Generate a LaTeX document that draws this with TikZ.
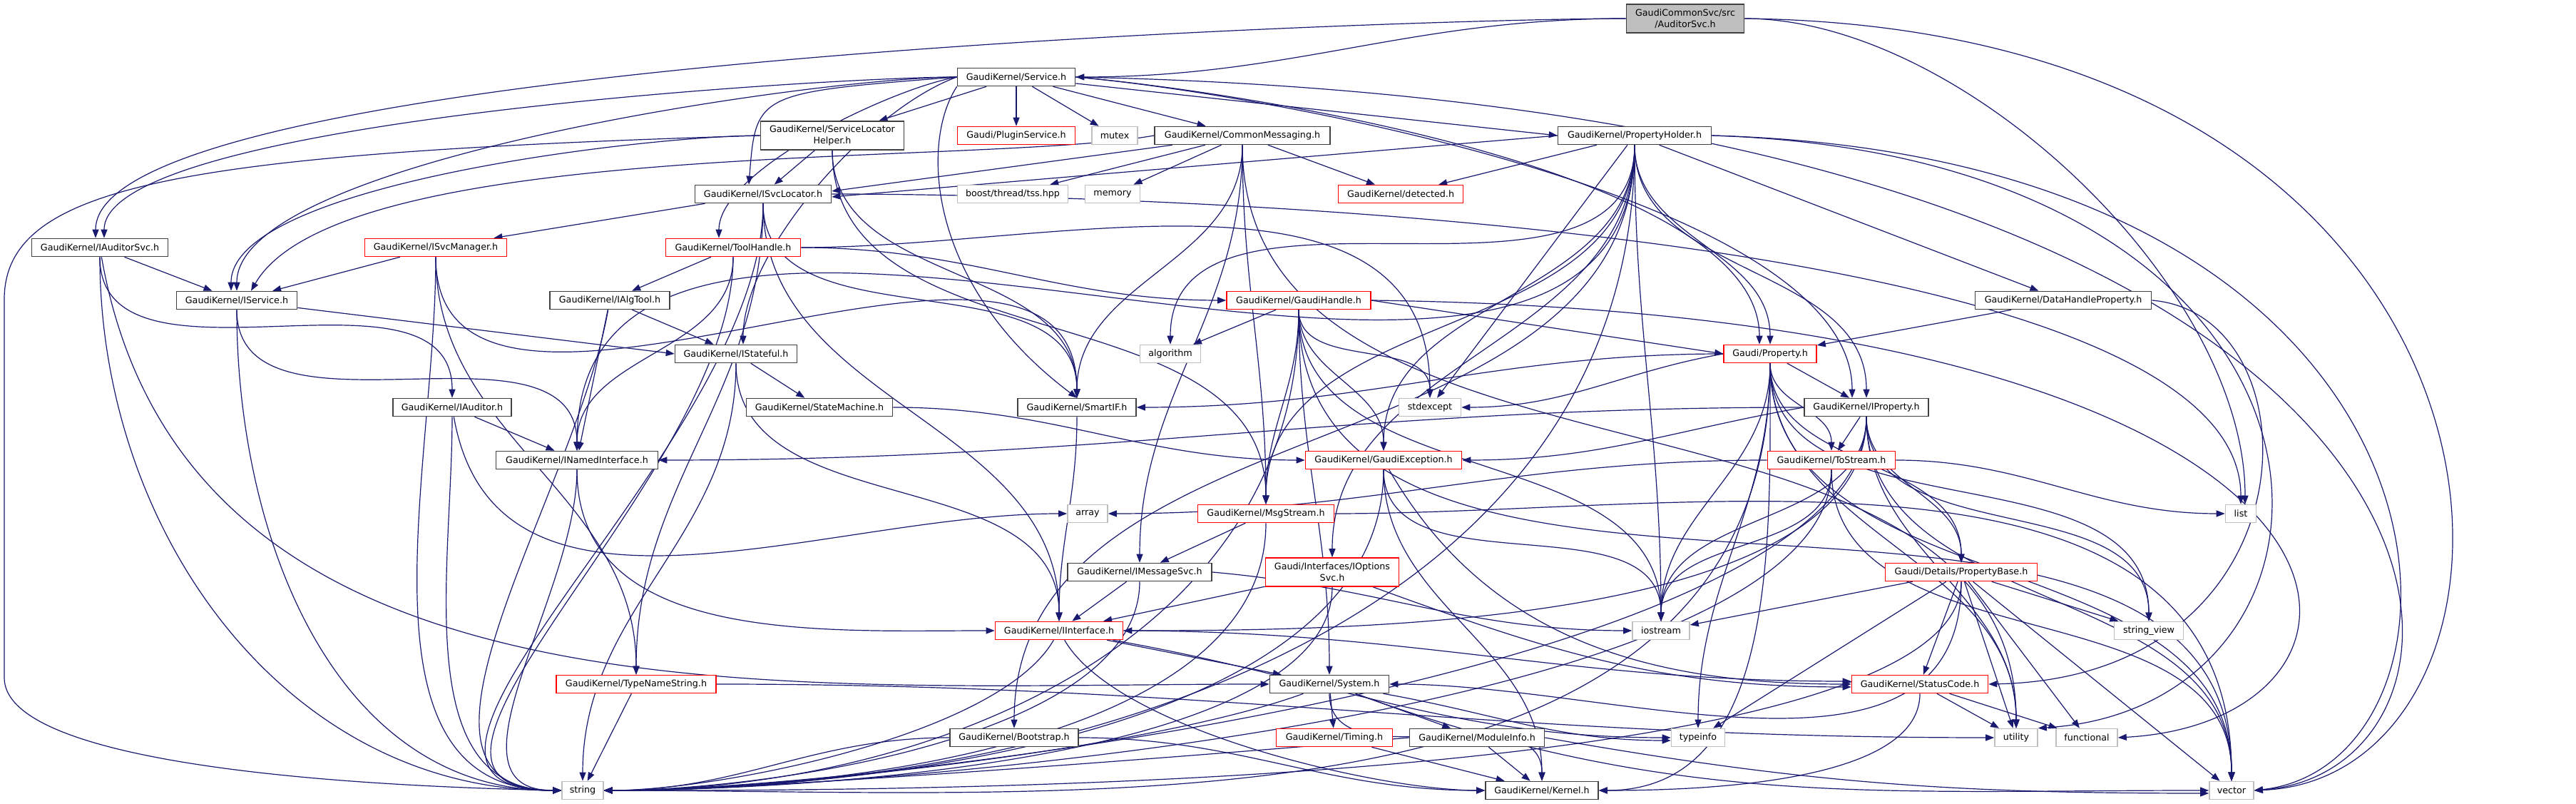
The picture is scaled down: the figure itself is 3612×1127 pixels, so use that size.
\documentclass[tikz,border=0pt]{standalone}
\usepackage{fontspec}
\setmainfont{DejaVu Sans}
\usepackage{tikz}
\usetikzlibrary{arrows.meta}
\definecolor{edgeblue}{HTML}{191970}
\definecolor{boxgray}{HTML}{404040}
\definecolor{sysgray}{HTML}{BFBFBF}
\definecolor{rootgray}{HTML}{BFBFBF}
\pgfdeclarelayer{back}
\pgfdeclarelayer{wires}
\pgfsetlayers{back,wires,main}
\tikzset{
  hdr/.style={draw=boxgray, line width=0.32pt, fill=white, minimum height=5pt, inner sep=0pt, align=center, font=\fontsize{2.54}{3.2}\selectfont},
  hdrtrunc/.style={hdr, draw=red},
  hdrsys/.style={hdr, draw=sysgray},
  hdrroot/.style={hdr, fill=rootgray},
  wd/.style={minimum width=#1*0.2pt},
  twoline/.style={minimum height=8pt},
  dep/.style={draw=edgeblue, line width=0.24pt, -{Triangle[length=2.4pt,width=1.8pt]}, out=-90, in=90},
}

\begin{document}
\begin{tikzpicture}[x=0.2pt,y=0.2pt]
	\useasboundingbox (0,0) rectangle (3612,-1127);
	\begin{pgfonlayer}{back}
	\fill[white] (0,0) rectangle (3612,-1127);
	\end{pgfonlayer}
	\node[hdrroot, wd=165, twoline] (root) at (2363,-26) {GaudiCommonSvc/src\\/AuditorSvc.h};
	\node[hdr, wd=165] (service) at (1425,-108) {GaudiKernel/Service.h};
	\node[hdr, wd=201, twoline] (slh) at (1167,-190) {GaudiKernel/ServiceLocator\\Helper.h};
	\node[hdrtrunc, wd=165] (plugin) at (1425,-190) {Gaudi/PluginService.h};
	\node[hdrsys, wd=64] (mutex) at (1563,-190) {mutex};
	\node[hdr, wd=246] (commsg) at (1742,-190) {GaudiKernel/CommonMessaging.h};
	\node[hdr, wd=215] (propholder) at (2292,-190) {GaudiKernel/PropertyHolder.h};
	\node[hdr, wd=191] (isvcloc) at (1070,-272) {GaudiKernel/ISvcLocator.h};
	\node[hdrsys, wd=155] (boost) at (1420,-272) {boost/thread/tss.hpp};
	\node[hdrsys, wd=77] (memory) at (1560,-272) {memory};
	\node[hdrtrunc, wd=175] (detected) at (1964,-272) {GaudiKernel/detected.h};
	\node[hdr, wd=191] (iauditorsvc) at (140,-347) {GaudiKernel/IAuditorSvc.h};
	\node[hdrtrunc, wd=199] (isvcmgr) at (611,-347) {GaudiKernel/ISvcManager.h};
	\node[hdrtrunc, wd=189] (toolhandle) at (1028,-347) {GaudiKernel/ToolHandle.h};
	\node[hdrtrunc, wd=202] (gaudihandle) at (1821,-421) {GaudiKernel/GaudiHandle.h};
	\node[hdr, wd=247] (datahandle) at (2893,-421) {GaudiKernel/DataHandleProperty.h};
	\node[hdr, wd=169] (iservice) at (332,-421) {GaudiKernel/IService.h};
	\node[hdr, wd=168] (ialgtool) at (855,-421) {GaudiKernel/IAlgTool.h};
	\node[hdr, wd=171] (istateful) at (1032,-496) {GaudiKernel/IStateful.h};
	\node[hdrsys, wd=85] (algorithm) at (1641,-496) {algorithm};
	\node[hdrtrunc, wd=130] (property) at (2482,-496) {Gaudi/Property.h};
	\node[hdr, wd=166] (iauditor) at (634,-571) {GaudiKernel/IAuditor.h};
	\node[hdr, wd=205] (statemachine) at (1149,-571) {GaudiKernel/StateMachine.h};
	\node[hdr, wd=166] (smartif) at (1510,-571) {GaudiKernel/SmartIF.h};
	\node[hdrsys, wd=87] (stdexcept) at (2005,-571) {stdexcept};
	\node[hdr, wd=174] (iproperty) at (2617,-571) {GaudiKernel/IProperty.h};
	\node[hdr, wd=227] (inamed) at (809,-645) {GaudiKernel/INamedInterface.h};
	\node[hdrtrunc, wd=219] (gexception) at (1940,-645) {GaudiKernel/GaudiException.h};
	\node[hdrtrunc, wd=179] (tostream) at (2568,-645) {GaudiKernel/ToStream.h};
	\node[hdrsys, wd=56] (array) at (1525,-720) {array};
	\node[hdrtrunc, wd=191] (msgstream) at (1775,-720) {GaudiKernel/MsgStream.h};
	\node[hdrsys, wd=43] (list) at (3142,-720) {list};
	\node[hdr, wd=202] (imsgsvc) at (1598,-802) {GaudiKernel/IMessageSvc.h};
	\node[hdrtrunc, wd=187, twoline] (ioptions) at (1868,-802) {Gaudi/Interfaces/IOptions\\Svc.h};
	\node[hdrtrunc, wd=213] (propbase) at (2750,-802) {Gaudi/Details/PropertyBase.h};
	\node[hdrtrunc, wd=179] (iinterface) at (1485,-884) {GaudiKernel/IInterface.h};
	\node[hdrsys, wd=80] (iostream) at (2329,-884) {iostream};
	\node[hdrsys, wd=97] (stringview) at (3013,-884) {string\_view};
	\node[hdr, wd=167] (system) at (1864,-959) {GaudiKernel/System.h};
	\node[hdrtrunc, wd=224] (typename) at (892,-959) {GaudiKernel/TypeNameString.h};
	\node[hdrtrunc, wd=191] (statuscode) at (2692,-959) {GaudiKernel/StatusCode.h};
	\node[hdr, wd=180] (bootstrap) at (1422,-1034) {GaudiKernel/Bootstrap.h};
	\node[hdrtrunc, wd=163] (timing) at (1871,-1034) {GaudiKernel/Timing.h};
	\node[hdr, wd=189] (moduleinfo) at (2071,-1034) {GaudiKernel/ModuleInfo.h};
	\node[hdrsys, wd=75] (typeinfo) at (2381,-1034) {typeinfo};
	\node[hdrsys, wd=60] (utility) at (2827,-1034) {utility};
	\node[hdrsys, wd=86] (functional) at (2926,-1034) {functional};
	\node[hdrsys, wd=58] (string) at (817,-1108) {string};
	\node[hdr, wd=158] (kernel) at (2162,-1108) {GaudiKernel/Kernel.h};
	\node[hdrsys, wd=62] (vector) at (3129,-1108) {vector};
	\begin{pgfonlayer}{wires}
	\draw[dep] (root.west) to[out=180,in=0] (service.east);
	\draw[dep] (root.west) to[out=180,in=90,looseness=0.3] ([xshift=-1.2pt]iauditorsvc.north);
	\draw[dep] (root.east) to[out=0,in=90,looseness=0.8] ([xshift=1.2pt]list.north);
	\draw[dep] (root.east) .. controls (3606,-40) and (3606,-1090) .. (vector.east);
	\draw[dep] (service.west) to[out=180,in=90,looseness=0.35] ([xshift=1.2pt]iauditorsvc.north);
	\draw[dep] (service) -- (slh);
	\draw[dep] (service) -- (plugin);
	\draw[dep] (service) -- (mutex);
	\draw[dep] (service) -- (commsg);
	\draw[dep] (service) -- (propholder.west);
	\draw[dep] (service.west) .. controls (1060,-130) .. ([xshift=-4pt]isvcloc.north);
	\draw[dep] (service.west) to[out=180,in=90,looseness=0.45] (iservice.north);
	\draw[dep] (service.west) to[out=190,in=90,looseness=0.6] ([xshift=-4pt]toolhandle.north);
	\draw[dep] (service.west) to[out=200,in=90,looseness=0.7] ([xshift=2pt]istateful.north);
	\draw[dep] (service.south west) .. controls (1290,-200) and (1300,-400) .. (smartif.north);
	\draw[dep] (service.east) to[out=-5,in=90,looseness=0.6] ([xshift=-3pt]property.north);
	\draw[dep] (service.east) to[out=-5,in=90,looseness=0.6] ([xshift=-4pt]iproperty.north);
	\draw[dep] (service.east) .. controls (3555,-150) and (3555,-1080) .. (vector.east);
	\draw[dep] (slh) -- (isvcloc);
	\draw[dep] (slh.west) to[out=180,in=90,looseness=0.5] ([xshift=-1.6pt]iservice.north);
	\draw[dep] (slh.west) .. controls (250,-215) and (6,-260) .. (6,-420) -- (6,-950) .. controls (6,-1060) and (400,-1100) .. (string.west);
	\draw[dep] (slh) to (smartif);
	\draw[dep] (slh) to (msgstream);
	\draw[dep] (commsg) -- ([yshift=0.8pt]isvcloc.east);
	\draw[dep] (commsg) -- (boost);
	\draw[dep] (commsg) -- (memory);
	\draw[dep] (commsg) -- (detected);
	\draw[dep] (commsg.west) to[out=190,in=60,looseness=0.5] ([xshift=4pt]iservice.north);
	\draw[dep] (commsg) to (smartif);
	\draw[dep] (commsg) to (imsgsvc);
	\draw[dep] (commsg) to (msgstream);
	\draw[dep] (commsg) to (utility);
	\draw[dep] (propholder.west) -- ([yshift=-0.8pt]isvcloc.east);
	\draw[dep] (propholder) -- (detected);
	\draw[dep] (propholder) -- (datahandle);
	\draw[dep] (propholder) to (property);
	\draw[dep] (propholder) to (iproperty);
	\draw[dep] (propholder) -- (stdexcept);
	\draw[dep] (propholder) to (algorithm);
	\draw[dep] (propholder) to (iostream);
	\draw[dep] (propholder.east) .. controls (3505,-220) and (3505,-1070) .. (vector.east);
	\draw[dep] (propholder.east) .. controls (3350,-220) and (3350,-990) .. (utility.north east);
	\draw[dep] (propholder) to[in=0] (string.east);
	\draw[dep] (propholder) to (inamed);
	\draw[dep] (propholder) to (gexception);
	\draw[dep] (propholder) to (ioptions);
	\draw[dep] (propholder) to (bootstrap);
	\draw[dep] (propholder) to (msgstream);
	\draw[dep] (isvcloc) -- (isvcmgr);
	\draw[dep] (isvcloc) to (typename);
	\draw[dep] (isvcloc) to (smartif);
	\draw[dep] (isvcloc) to (iinterface);
	\draw[dep] (isvcloc.east) to[out=0,in=90,looseness=0.5] (list.north);
	\draw[dep] (isvcloc) to[in=180] (string.west);
	\draw[dep] (iauditorsvc) -- (iservice);
	\draw[dep] (iauditorsvc) to (iauditor);
	\draw[dep] (iauditorsvc) to[in=180] (string.west);
	\draw[dep] (iauditorsvc) to[out=-80,in=180] (system.west);
	\draw[dep] (isvcmgr) -- (iservice);
	\draw[dep] (isvcmgr) to (typename);
	\draw[dep] (isvcmgr) to (smartif);
	\draw[dep] (isvcmgr) to[in=180] (string.west);
	\draw[dep] (toolhandle) -- (ialgtool);
	\draw[dep] (toolhandle.east) to[out=0,in=180] (gaudihandle.west);
	\draw[dep] (toolhandle) to (inamed);
	\draw[dep] (toolhandle) to[in=180] (string.west);
	\draw[dep] (toolhandle.east) to[out=0,in=90] (stdexcept.north);
	\draw[dep] (gaudihandle.east) -- (property.west);
	\draw[dep] (gaudihandle) -- (algorithm);
	\draw[dep] (gaudihandle) to (stdexcept);
	\draw[dep] (gaudihandle) to (gexception);
	\draw[dep] (gaudihandle) to (iostream);
	\draw[dep] (gaudihandle) to[in=0] (string.east);
	\draw[dep] (gaudihandle) to (vector);
	\draw[dep] (gaudihandle) to (msgstream);
	\draw[dep] (gaudihandle) to (system);
	\draw[dep] (gaudihandle.east) .. controls (3404,-440) and (3404,-1010) .. (functional.east);
	\draw[dep] (datahandle) -- (property);
	\draw[dep] (datahandle.east) .. controls (3252,-440) and (3252,-950) .. (statuscode.east);
	\draw[dep] (iservice) -- (istateful.west);
	\draw[dep] (iservice) to (inamed);
	\draw[dep] (iservice) to[in=180] (string.west);
	\draw[dep] (ialgtool) -- (istateful);
	\draw[dep] (ialgtool) -- (inamed);
	\draw[dep] (ialgtool) to[out=-100,in=180] (string.west);
	\draw[dep] (istateful) -- (statemachine);
	\draw[dep] (istateful) to (iinterface);
	\draw[dep] (istateful) to (string);
	\draw[dep] (statemachine.east) to[out=0,in=180] (gexception.west);
	\draw[dep] (property) -- (iproperty);
	\draw[dep] (property) to (tostream);
	\draw[dep] (property) to (propbase);
	\draw[dep] (property.west) to[out=180,in=0] (smartif.east);
	\draw[dep] (property.west) to[out=190,in=0] (stdexcept.east);
	\draw[dep] (property) to[in=0] (string.east);
	\draw[dep] (property) to (iostream);
	\draw[dep] (property) to (typeinfo);
	\draw[dep] (property) to (utility);
	\draw[dep] (property) to (vector);
	\draw[dep] (property) to[in=0] (kernel.east);
	\draw[dep] (property) to (stringview);
	\draw[dep] (iauditor) -- (inamed);
	\draw[dep] (iauditor) to[in=180] (string.west);
	\draw[dep] (iauditor) to[out=-80,in=180] (array.west);
	\draw[dep] (iproperty.west) to[out=180,in=0] (inamed.east);
	\draw[dep] (iproperty.west) to[out=190,in=0] (gexception.east);
	\draw[dep] (iproperty) -- (tostream);
	\draw[dep] (iproperty) to (propbase);
	\draw[dep] (iproperty) to[in=0,looseness=0.7] (iinterface.east);
	\draw[dep] (iproperty) to[in=0,looseness=0.5] (string.east);
	\draw[dep] (iproperty) to (iostream);
	\draw[dep] (iproperty) to (vector);
	\draw[dep] (iproperty) to (stringview);
	\draw[dep] (iproperty) to (utility);
	\draw[dep] (smartif) to (iinterface);
	\draw[dep] (inamed) to[in=180] (iinterface.west);
	\draw[dep] (inamed) to[in=180] (string.west);
	\draw[dep] (gexception) to (kernel);
	\draw[dep] (gexception) to[out=-60,in=180] (statuscode.west);
	\draw[dep] (gexception) to (iostream);
	\draw[dep] (gexception) to[in=0,looseness=0.8] (string.east);
	\draw[dep] (tostream.west) to[out=180,in=0] (array.east);
	\draw[dep] (tostream.east) to[out=0,in=180] (list.west);
	\draw[dep] (tostream) to (iostream);
	\draw[dep] (tostream) to[in=0,looseness=0.5] (string.east);
	\draw[dep] (tostream) to (vector);
	\draw[dep] (msgstream) -- (imsgsvc);
	\draw[dep] (msgstream) to[in=0,looseness=0.8] (string.east);
	\draw[dep] (msgstream.east) to[out=0,in=90] (vector.north);
	\draw[dep] (imsgsvc) -- (iinterface);
	\draw[dep] (imsgsvc) to[in=0,looseness=0.7] (string.east);
	\draw[dep] (imsgsvc.east) to[out=-5,in=180] (iostream.west);
	\draw[dep] (ioptions) -- (iinterface);
	\draw[dep] (ioptions) to[in=0,looseness=0.6] (string.east);
	\draw[dep] (ioptions) to[out=-20,in=180] ([yshift=-0.8pt]statuscode.west);
	\draw[dep] (propbase) -- (statuscode);
	\draw[dep] (propbase) -- (utility);
	\draw[dep] (propbase) -- (functional);
	\draw[dep] (propbase) -- (stringview);
	\draw[dep] (propbase) -- (iostream);
	\draw[dep] (propbase) to[in=0,looseness=0.4] (string.east);
	\draw[dep] (propbase) -- (typeinfo);
	\draw[dep] (propbase) to[in=0] (system.east);
	\draw[dep] (propbase) -- (vector);
	\draw[dep] (iinterface) -- (system);
	\draw[dep] (iinterface.east) to[out=0,in=180] ([yshift=0.8pt]statuscode.west);
	\draw[dep] (iinterface) to[out=-60,in=180,looseness=0.6] (kernel.west);
	\draw[dep] (iinterface) to[out=-10,in=180] (typeinfo.west);
	\draw[dep] (iinterface) to[out=-120,in=0,looseness=0.6] (string.east);
	\draw[dep] (system) -- (timing);
	\draw[dep] (system) -- (moduleinfo);
	\draw[dep] (system) to (kernel);
	\draw[dep] (system) to[out=-160,in=0,looseness=0.6] (string.east);
	\draw[dep] (system) to[out=-10,in=180] ([yshift=-0.8pt]typeinfo.west);
	\draw[dep] (system) to[out=-20,in=180] (vector.west);
	\draw[dep] (typename) -- (string);
	\draw[dep] (typename.east) to[out=0,in=180] (utility.west);
	\draw[dep] (statuscode) -- (utility);
	\draw[dep] (statuscode) -- (functional);
	\draw[dep] (statuscode) to[in=0,looseness=0.7] (kernel.east);
	\draw[dep] (bootstrap.west) to[out=180,in=0] (string.east);
	\draw[dep] (bootstrap.east) to[out=0,in=180] (kernel.west);
	\draw[dep] (timing) -- (kernel);
	\draw[dep] (moduleinfo) -- (kernel);
	\draw[dep] (moduleinfo.west) to[out=185,in=0,looseness=0.5] (string.east);
	\draw[dep] (moduleinfo.east) to[out=-10,in=180] ([yshift=-0.8pt]vector.west);
	\end{pgfonlayer}
\end{tikzpicture}
\end{document}
